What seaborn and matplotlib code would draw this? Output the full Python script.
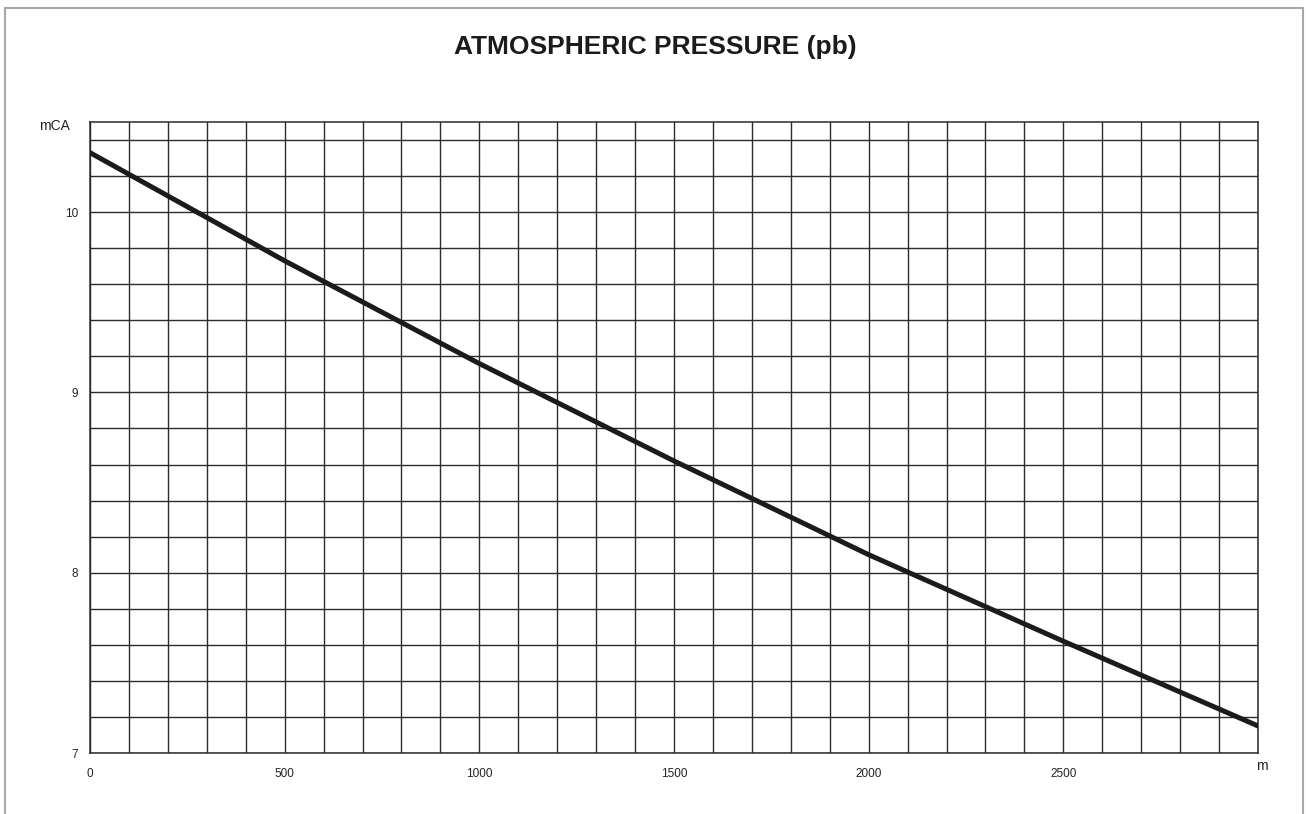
import numpy as np
import pandas as pd
import matplotlib
matplotlib.use('Agg')
import matplotlib.pyplot as plt
from matplotlib.lines import Line2D
from matplotlib.ticker import MultipleLocator
import seaborn as sns

# altitude (m) and atmospheric pressure (metres of water column)
altitude = [0, 500, 1000, 1500, 2000, 2500, 3000]
pressure = [10.33, 9.73, 9.16, 8.62, 8.10, 7.62, 7.15]
x_ticks = [0, 500, 1000, 1500, 2000, 2500]
y_ticks = [7, 8, 9, 10]

title = 'ATMOSPHERIC PRESSURE (pb)'
y_unit = 'mCA'
x_unit = 'm'

df = pd.DataFrame({'altitude': altitude, 'pressure': pressure})

sns.set_style('white')
plt.rcParams['font.family'] = ['Liberation Sans', 'DejaVu Sans']

fig = plt.figure(figsize=(13.06, 8.14), dpi=100)
ax = fig.add_axes([90 / 1306, 1 - 753 / 814, 1168 / 1306, 631 / 814])

grid_col = '#2b2b2b'
ax.xaxis.set_minor_locator(MultipleLocator(100))
ax.yaxis.set_minor_locator(MultipleLocator(0.2))
ax.grid(which='both', color=grid_col, linewidth=1.0)
ax.set_axisbelow(True)

sns.lineplot(data=df, x='altitude', y='pressure', ax=ax, color='#1c1a1a',
             linewidth=3.6, zorder=3)

ax.set_xlim(0, 3000)
ax.set_ylim(7, 10.5)
ax.set_xticks(x_ticks)
ax.set_yticks(y_ticks)
ax.set_xlabel('')
ax.set_ylabel('')
ax.tick_params(which='major', direction='out', length=4.5, width=0.8,
               color='#555555', labelsize=8.5, labelcolor='#222222', pad=4)
ax.tick_params(which='minor', length=0)
ax.tick_params(axis='x', pad=6)

for s in ax.spines.values():
    s.set_color(grid_col)
    s.set_linewidth(1.1)

fig.text(655 / 1306, 1 - 47 / 814, title, ha='center', va='center',
         fontsize=19, fontweight='bold', color='#1c1a1a')
fig.text(54 / 1306, 1 - 126 / 814, y_unit, ha='center', va='center',
         fontsize=10, color='#222222')
fig.text(1262 / 1306, 1 - 766 / 814, x_unit, ha='center', va='center',
         fontsize=10, color='#222222')

# light page frame (no bottom edge)
fc = '#a8a8a8'
top = 1 - 8 / 814
fig.add_artist(Line2D([5 / 1306, 5 / 1306], [0, top], transform=fig.transFigure, color=fc, lw=1.5))
fig.add_artist(Line2D([1303 / 1306, 1303 / 1306], [0, top], transform=fig.transFigure, color=fc, lw=1.5))
fig.add_artist(Line2D([5 / 1306, 1303 / 1306], [top, top], transform=fig.transFigure, color=fc, lw=1.5))

fig.savefig('out.png', dpi=100)
